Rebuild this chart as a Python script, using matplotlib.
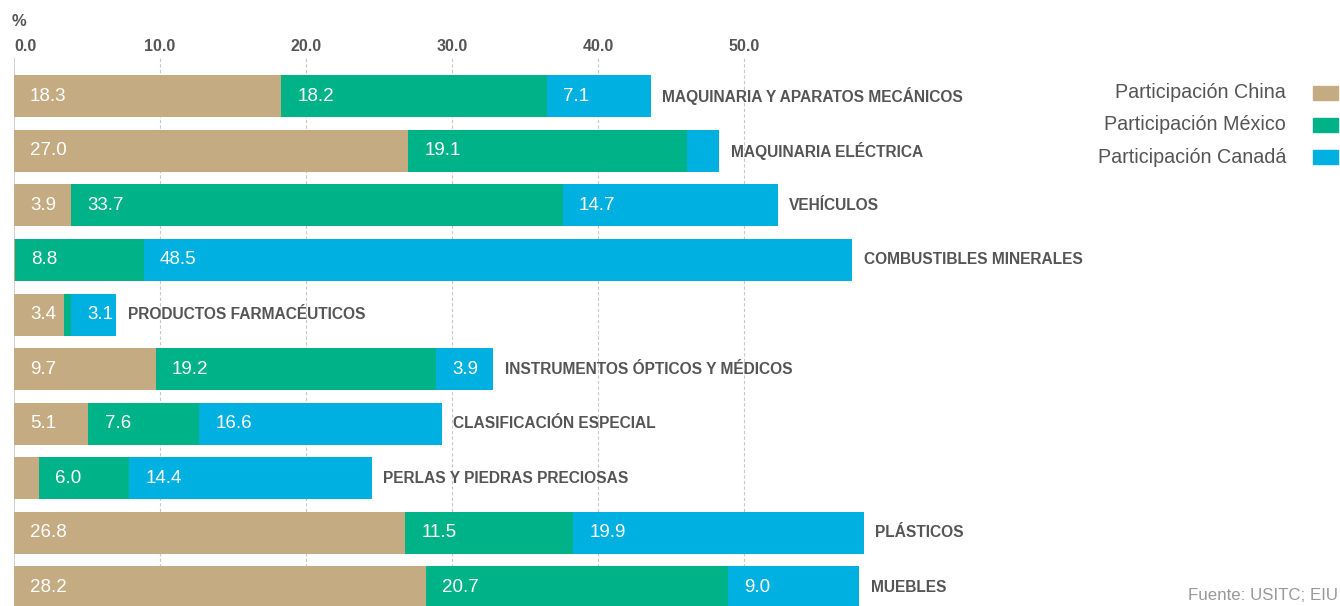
import matplotlib.pyplot as plt
import numpy as np

categorias = ['MAQUINARIA Y APARATOS MECÁNICOS', 'MAQUINARIA ELÉCTRICA', 'VEHÍCULOS',
              'COMBUSTIBLES MINERALES', 'PRODUCTOS FARMACÉUTICOS',
              'INSTRUMENTOS ÓPTICOS Y MÉDICOS', 'CLASIFICACIÓN ESPECIAL',
              'PERLAS Y PIEDRAS PRECIOSAS', 'PLÁSTICOS', 'MUEBLES']
china = [18.3, 27.0, 3.9, 0.1, 3.4, 9.7, 5.1, 1.7, 26.8, 28.2]
mexico = [18.2, 19.1, 33.7, 8.8, 0.5, 19.2, 7.6, 6.2, 11.5, 20.7]
canada = [7.1, 2.2, 14.7, 48.5, 3.1, 3.9, 16.6, 16.6, 19.9, 9.0]
# etiquetas tal como aparecen en las barras ('' = sin etiqueta)
lab_china = ['18.3', '27.0', '3.9', '', '3.4', '9.7', '5.1', '', '26.8', '28.2']
lab_mexico = ['18.2', '19.1', '33.7', '8.8', '', '19.2', '7.6', '6.0', '11.5', '20.7']
lab_canada = ['7.1', '', '14.7', '48.5', '3.1', '3.9', '16.6', '14.4', '19.9', '9.0']

series = ['Participación China', 'Participación México', 'Participación Canadá']
colores = ['#C4AB82', '#00B288', '#00B0E1']
ticks = [0, 10, 20, 30, 40, 50]

plt.rcParams['font.family'] = ['Liberation Sans', 'DejaVu Sans']
gris = '#555555'

fig = plt.figure(figsize=(13.4, 6.06), dpi=100)
ax = fig.add_axes([14/1340, 0, 1 - 14/1340, (606-58)/606])

y = np.arange(len(categorias))
china = np.array(china)
mexico = np.array(mexico)
canada = np.array(canada)

ax.barh(y, china, height=0.77, color=colores[0], zorder=2)
ax.barh(y, mexico, left=china, height=0.77, color=colores[1], zorder=2)
ax.barh(y, canada, left=china + mexico, height=0.77, color=colores[2], zorder=2)

# numeros dentro de las barras
for vals, lefts, labs in [(china, np.zeros(len(y)), lab_china),
                          (mexico, china, lab_mexico),
                          (canada, china + mexico, lab_canada)]:
    for i in range(len(y)):
        if labs[i]:
            ax.text(lefts[i] + 1.1, y[i], labs[i], color='white', fontsize=13.5,
                    ha='left', va='center', zorder=4)

# nombre de la categoria al final de la barra
total = china + mexico + canada
for i in range(len(y)):
    ax.text(total[i] + 0.8, y[i], categorias[i], color=gris, fontsize=11.2,
            fontweight='bold', ha='left', va='center')

ax.set_xlim(0, 1326/14.6)
ax.set_ylim(9.34, -0.70)
ax.set_yticks([])
ax.xaxis.tick_top()
ax.set_xticks(ticks)
ax.set_xticklabels(['%.1f' % t for t in ticks], fontsize=11.5, fontweight='bold', color=gris)
ax.tick_params(axis='x', length=0, pad=3)
ax.get_xticklabels()[0].set_horizontalalignment('left')
for t in ticks[1:]:
    ax.axvline(t, color='#c8c8c8', lw=0.8, ls=(0, (3, 2)), zorder=1)
ax.axvline(0, color='#c8c8c8', lw=1.2, zorder=1)
for s in ax.spines.values():
    s.set_visible(False)

fig.text(12/1340, 1 - 21/606, '%', fontsize=12, fontweight='bold', color=gris,
         ha='left', va='center')

# leyenda
for k, nombre in enumerate(series):
    yy = 1 - (93 + 32*k)/606
    fig.text(1286/1340, yy, nombre, fontsize=14.2, color=gris, ha='right', va='center')
    fig.patches.append(plt.Rectangle((1313/1340, yy - 7/606), 25/1340, 14/606,
                                     color=colores[k], transform=fig.transFigure))

fig.text(1338/1340, 1 - 596/606, 'Fuente: USITC; EIU', fontsize=12.2, color='#999999',
         ha='right', va='center')

fig.savefig('out.png', dpi=100)
